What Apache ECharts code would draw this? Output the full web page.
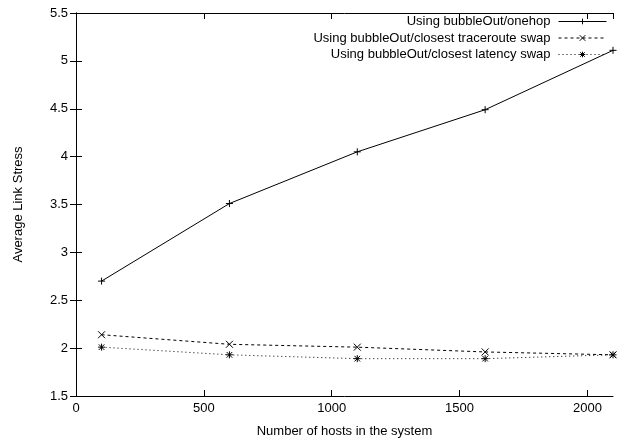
<!DOCTYPE html>
<html><head><meta charset="utf-8">
<script src="https://cdn.jsdelivr.net/npm/echarts@6/dist/echarts.min.js"></script>
<style>html,body{margin:0;padding:0;background:#fff}#c{width:618px;height:444px}</style>
</head><body><div id="c"></div>
<script>
const hosts = [100, 600, 1100, 1600, 2100];
const onehop = [2.70, 3.51, 4.05, 4.49, 5.11];
const traceroute = [2.14, 2.04, 2.01, 1.96, 1.93];
const latency = [2.01, 1.93, 1.89, 1.89, 1.93];
const seriesNames = ['Using bubbleOut/onehop', 'Using bubbleOut/closest traceroute swap', 'Using bubbleOut/closest latency swap'];
const xLabel = 'Number of hosts in the system';
const yLabel = 'Average Link Stress';

const PLUS = 'path://M0,5L10,5M5,0L5,10';
const CROSS = 'path://M0,0L10,10M0,10L10,0';
const STAR = 'path://M0,5L10,5M5,0L5,10M1,1L9,9M1,9L9,1';
const font = 'Liberation Sans, Arial, sans-serif';
const FS = 13;

function pts(ys){ return hosts.map((x,i)=>[x, ys[i]]); }
function mk(name, ys, sym, type){
  return {
    name, type:'line', data: pts(ys), symbol: sym, symbolSize: 7, showSymbol:true,
    xAxisIndex:0, yAxisIndex:0,
    lineStyle:{color:'#000', width:1, type: type},
    itemStyle:{color:'#000', borderColor:'#000', borderWidth:1},
    emphasis:{disabled:true}, animation:false
  };
}
const chart = echarts.init(document.getElementById('c'), null, {renderer:'canvas'});
const axisCommon = {
  axisLine:{show:true, lineStyle:{color:'#000', width:1}},
  axisTick:{show:true, inside:true, length:6, lineStyle:{color:'#000'}},
  splitLine:{show:false}
};
chart.setOption({
  animation:false,
  backgroundColor:'#fff',
  textStyle:{fontFamily:font},
  grid:{left:76, right:5, top:13, bottom:48, containLabel:false},
  legend:{
    orient:'vertical', right:11, top:15, align:'right', padding:0,
    itemWidth:48, itemHeight:7, itemGap:3.5,
    lineStyle:{width:1},
    itemStyle:{borderWidth:1},
    textStyle:{fontFamily:font, fontSize:FS, color:'#000', padding:[0,3,0,0]},
    data: seriesNames
  },
  xAxis:[
    Object.assign({type:'value', min:0, max:2100, interval:500, position:'bottom',
      name:xLabel, nameLocation:'middle', nameGap:29,
      nameTextStyle:{fontFamily:font, fontSize:FS, color:'#000'},
      axisLabel:{fontFamily:font, fontSize:FS, color:'#000', margin:6, showMaxLabel:false,
        formatter: v => String(v)}}, axisCommon),
    Object.assign({type:'value', min:0, max:2100, interval:500, position:'top',
      axisLabel:{show:false}}, axisCommon)
  ],
  yAxis:[
    Object.assign({type:'value', min:1.5, max:5.5, interval:0.5, position:'left',
      name:yLabel, nameLocation:'middle', nameGap:51,
      nameTextStyle:{fontFamily:font, fontSize:FS, color:'#000'},
      axisLabel:{fontFamily:font, fontSize:FS, color:'#000', margin:8,
        formatter: v => String(v)}}, axisCommon),
    Object.assign({type:'value', min:1.5, max:5.5, interval:0.5, position:'right',
      axisLabel:{show:false}}, axisCommon)
  ],
  series:[
    mk(seriesNames[0], onehop, PLUS, 'solid'),
    mk(seriesNames[1], traceroute, CROSS, [3,3]),
    mk(seriesNames[2], latency, STAR, [1,3])
  ]
});
</script></body></html>
